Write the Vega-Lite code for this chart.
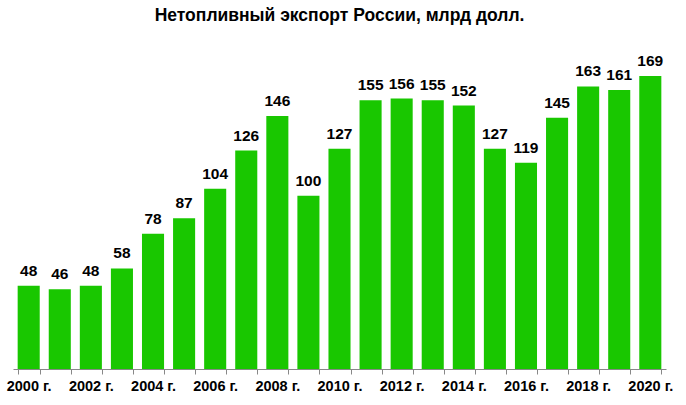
{
  "$schema": "https://vega.github.io/schema/vega-lite/v6.json",
  "autosize": "none",
  "width": 653,
  "height": 312,
  "padding": {"left": 13, "top": 57, "right": 20, "bottom": 36},
  "background": "white",
  "title": {
    "text": "Нетопливный экспорт России, млрд долл.",
    "font": "Liberation Sans",
    "fontSize": 17.5,
    "fontWeight": "bold",
    "color": "black",
    "anchor": "middle",
    "offset": 30
  },
  "data": {
    "values": [
      {"year": "2000 г.", "value": 48},
      {"year": "2001 г.", "value": 46},
      {"year": "2002 г.", "value": 48},
      {"year": "2003 г.", "value": 58},
      {"year": "2004 г.", "value": 78},
      {"year": "2005 г.", "value": 87},
      {"year": "2006 г.", "value": 104},
      {"year": "2007 г.", "value": 126},
      {"year": "2008 г.", "value": 146},
      {"year": "2009 г.", "value": 100},
      {"year": "2010 г.", "value": 127},
      {"year": "2011 г.", "value": 155},
      {"year": "2012 г.", "value": 156},
      {"year": "2013 г.", "value": 155},
      {"year": "2014 г.", "value": 152},
      {"year": "2015 г.", "value": 127},
      {"year": "2016 г.", "value": 119},
      {"year": "2017 г.", "value": 145},
      {"year": "2018 г.", "value": 163},
      {"year": "2019 г.", "value": 161},
      {"year": "2020 г.", "value": 169}
    ]
  },
  "encoding": {
    "x": {
      "field": "year",
      "type": "ordinal",
      "sort": null,
      "scale": {"paddingInner": 0.29, "paddingOuter": 0.15},
      "axis": {
        "title": null,
        "labelAngle": 0,
        "labelFont": "Liberation Sans",
        "labelFontSize": 14.5,
        "labelFontWeight": "bold",
        "labelColor": "black",
        "labelPadding": 5,
        "labelOverlap": false,
        "labelExpr": "toNumber(substring(datum.label, 0, 4)) % 2 == 0 ? datum.label : ''",
        "tickBand": "extent",
        "tickSize": 5,
        "tickColor": "#888888",
        "domainColor": "#888888",
        "grid": false
      }
    },
    "y": {
      "field": "value",
      "type": "quantitative",
      "scale": {"domain": [0, 180]},
      "axis": null
    }
  },
  "layer": [
    {"mark": {"type": "bar", "color": "#19c700"}},
    {
      "mark": {
        "type": "text",
        "baseline": "alphabetic",
        "dy": -10,
        "font": "Liberation Sans",
        "fontSize": 15.5,
        "fontWeight": "bold",
        "color": "black"
      },
      "encoding": {"text": {"field": "value", "type": "quantitative"}}
    }
  ],
  "config": {"view": {"stroke": null}}
}
